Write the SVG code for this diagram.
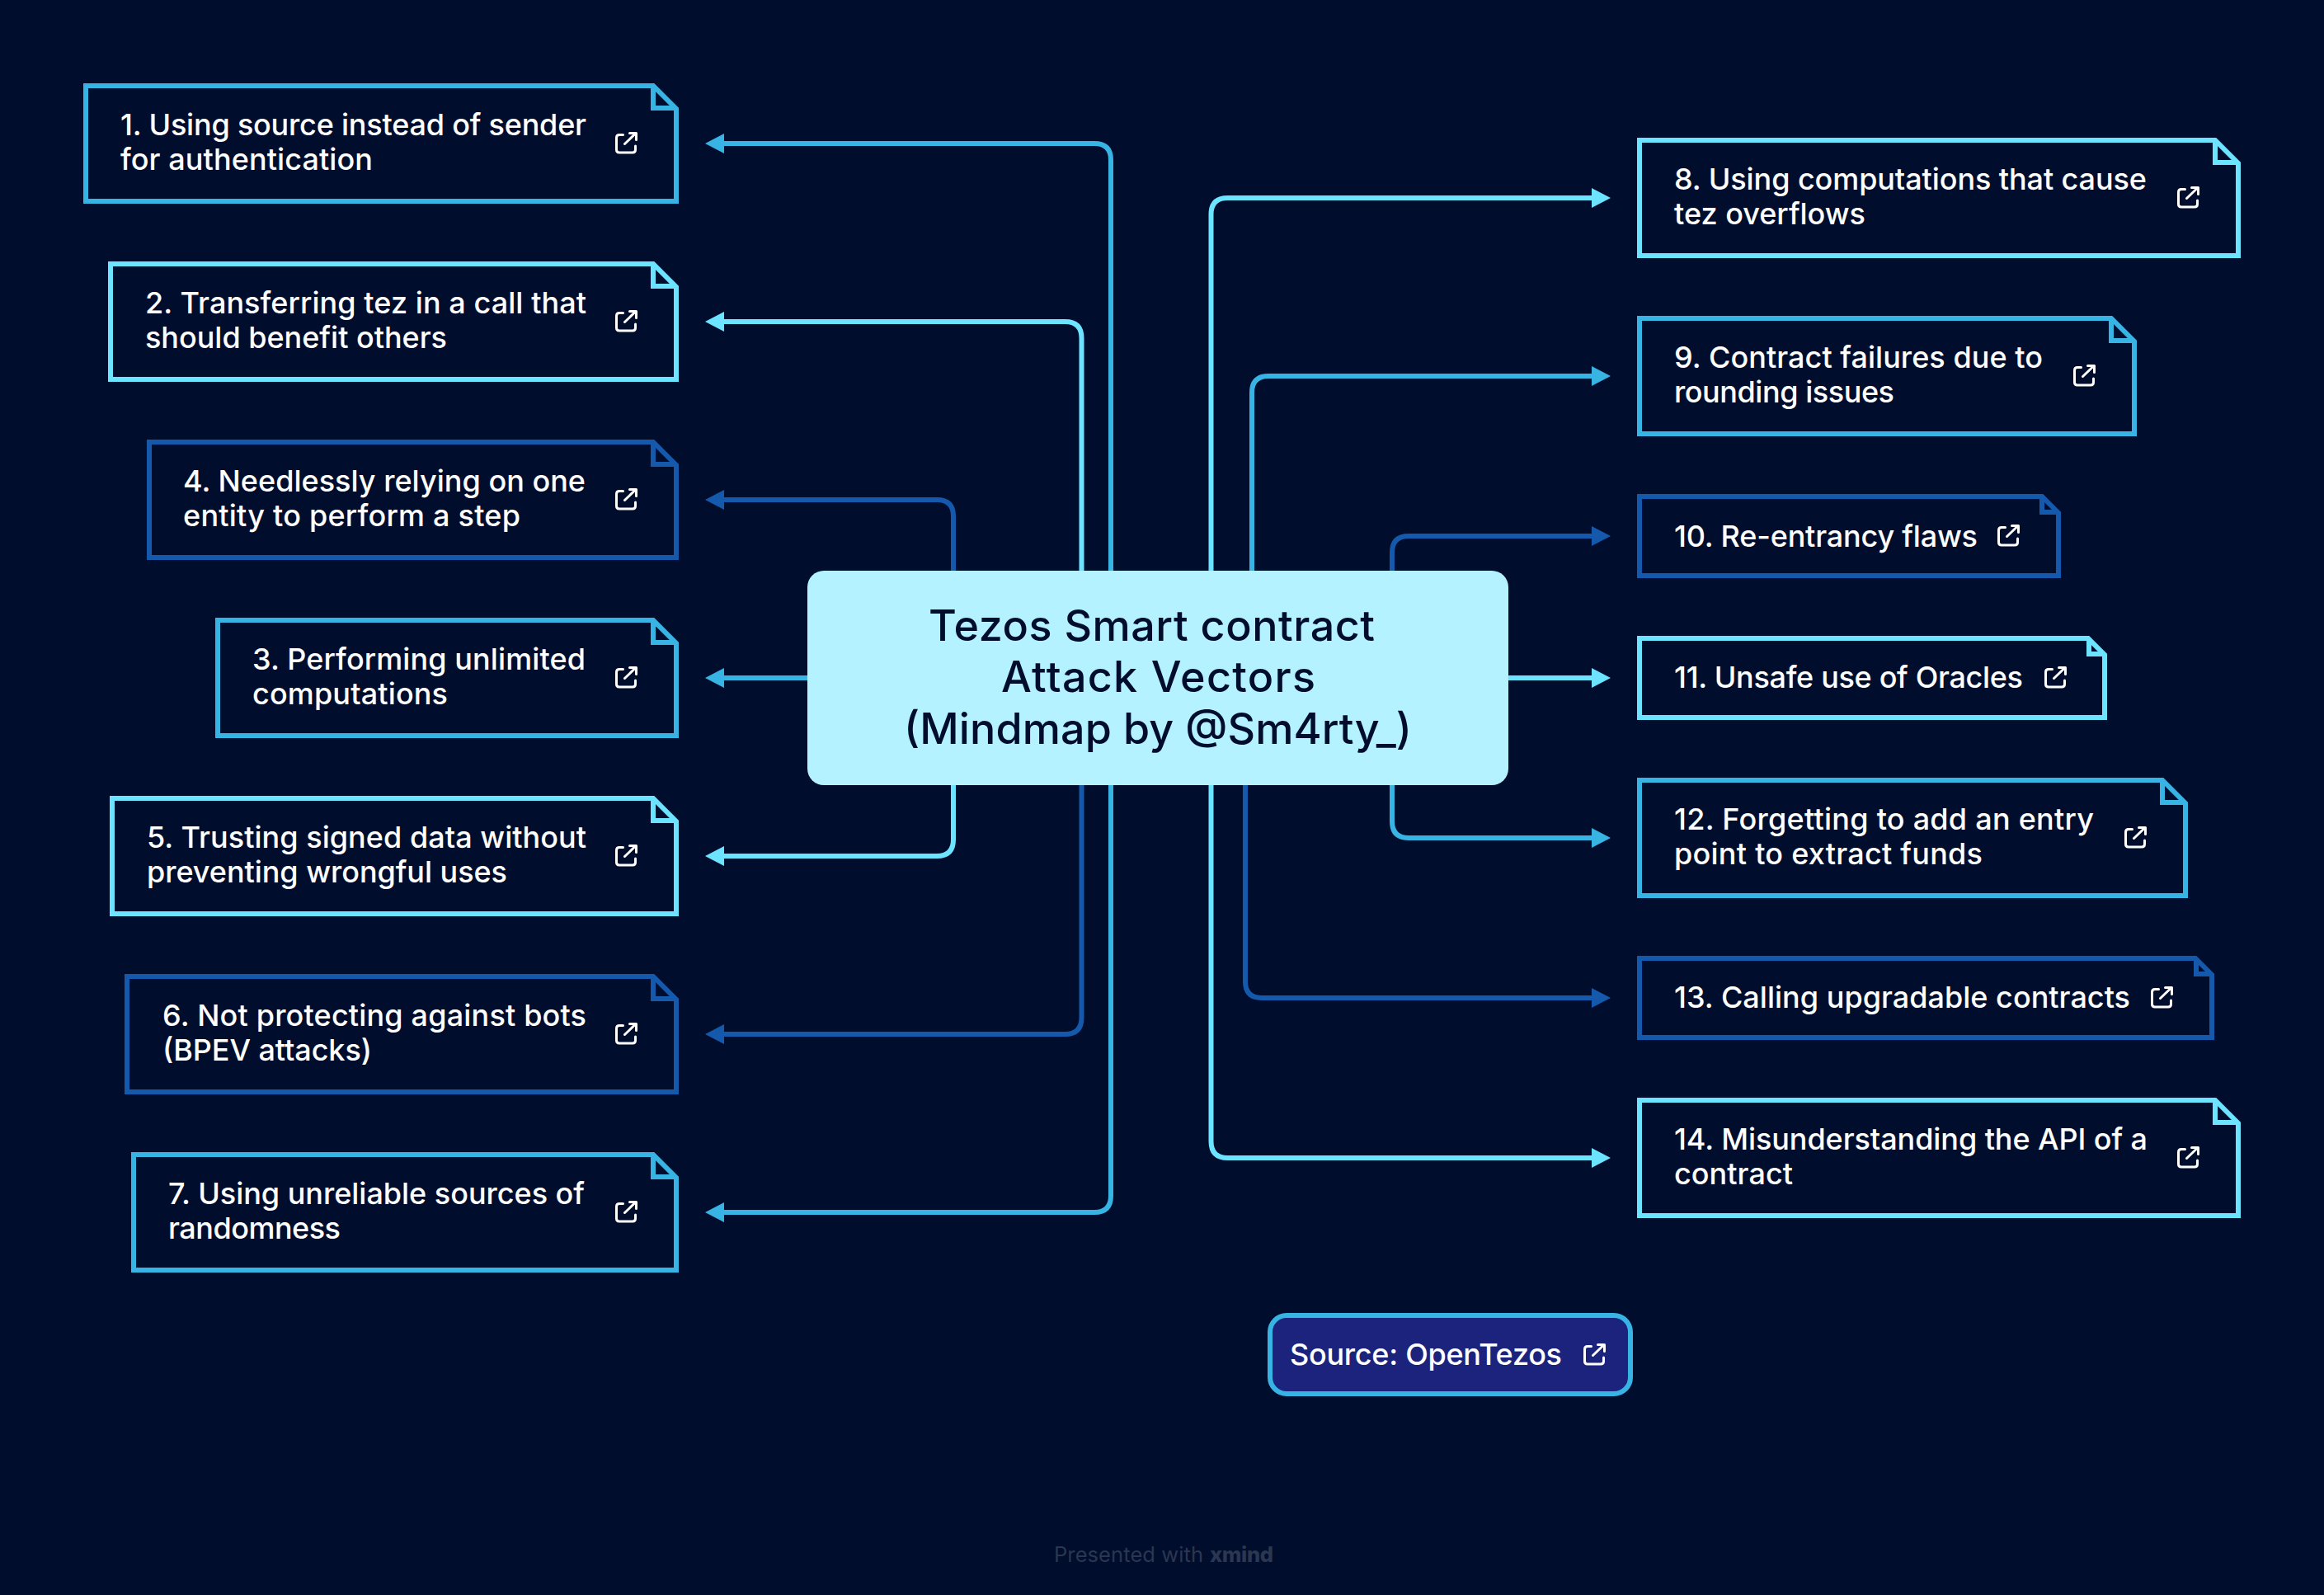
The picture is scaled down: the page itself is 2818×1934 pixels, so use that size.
<svg xmlns="http://www.w3.org/2000/svg" width="2818" height="1934" viewBox="0 0 2818 1934">
<style>
.t{font-family:"Inter","Noto Sans",sans-serif;font-size:36px;font-weight:500;fill:#fff}
.c{font-family:"Inter","Noto Sans",sans-serif;font-size:52px;font-weight:500;fill:#000D2D}
.n{fill:none;stroke-width:6;stroke-linejoin:miter}
.l{fill:none;stroke-width:6}
.b{stroke:#6CE3FF}.m{stroke:#38B4E4}.d{stroke:#1559AC}
.i{fill:none;stroke:#fff;stroke-width:3;stroke-linecap:round;stroke-linejoin:round}
.f{font-family:"Inter","Noto Sans",sans-serif;font-size:25.500px;fill:#2B3650}
</style>
<defs>
<g id="ic"><path class="i" d="M9.500 3.500H5Q1.500 3.500 1.500 7V21.500Q1.500 25 5 25H21Q24.500 25 24.500 21.500V17"/><path class="i" d="M11.500 14.500L25 1.500M17.500 1.500H25.500V9.500"/></g>
<marker id="ab" markerUnits="userSpaceOnUse" markerWidth="24" markerHeight="24" refX="0" refY="12" orient="auto"><path d="M0 0L23 12L0 24Z" fill="#6CE3FF"/></marker>
<marker id="am" markerUnits="userSpaceOnUse" markerWidth="24" markerHeight="24" refX="0" refY="12" orient="auto"><path d="M0 0L23 12L0 24Z" fill="#38B4E4"/></marker>
<marker id="ad" markerUnits="userSpaceOnUse" markerWidth="24" markerHeight="24" refX="0" refY="12" orient="auto"><path d="M0 0L23 12L0 24Z" fill="#1559AC"/></marker>
</defs>
<rect width="2818" height="1934" fill="#000D2D"/>
<g id="connectors">
<path class="l m" marker-end="url(#am)" d="M1347 692V194Q1347 174 1327 174H878"/>
<path class="l b" marker-end="url(#ab)" d="M1311.500 692V410Q1311.500 390 1291.500 390H878"/>
<path class="l d" marker-end="url(#ad)" d="M1156 692V626Q1156 606 1136 606H878"/>
<path class="l m" marker-end="url(#am)" d="M979 822H878"/>
<path class="l b" marker-end="url(#ab)" d="M1156 952V1018Q1156 1038 1136 1038H878"/>
<path class="l d" marker-end="url(#ad)" d="M1311.500 952V1234Q1311.500 1254 1291.500 1254H878"/>
<path class="l m" marker-end="url(#am)" d="M1347 952V1450Q1347 1470 1327 1470H878"/>
<path class="l b" marker-end="url(#ab)" d="M1468.500 692V260Q1468.500 240 1488.500 240H1930"/>
<path class="l m" marker-end="url(#am)" d="M1518 692V476Q1518 456 1538 456H1930"/>
<path class="l d" marker-end="url(#ad)" d="M1688 692V670Q1688 650 1708 650H1930"/>
<path class="l b" marker-end="url(#ab)" d="M1829 822H1930"/>
<path class="l m" marker-end="url(#am)" d="M1688 952V996Q1688 1016 1708 1016H1930"/>
<path class="l d" marker-end="url(#ad)" d="M1510 952V1190Q1510 1210 1530 1210H1930"/>
<path class="l b" marker-end="url(#ab)" d="M1468.500 952V1384Q1468.500 1404 1488.500 1404H1930"/>
</g>
<g id="center"><rect x="979" y="692" width="850" height="260" rx="20" fill="#B5F2FF"/>
<text class="c" x="1126" y="777" textLength="541">Tezos Smart contract</text>
<text class="c" x="1214" y="839" textLength="381">Attack Vectors</text>
<text class="c" x="1096" y="902" textLength="616">(Mindmap by @Sm4rty_)</text></g>
<g id="node1"><path class="n m" d="M104 104H792L820 132V244H104Z M792 104V131H820"/><text class="t" x="146" y="164" textLength="565">1. Using source instead of sender</text><text class="t" x="146" y="206" textLength="306">for authentication</text><use href="#ic" x="746" y="160"/></g>
<g id="node2"><path class="n b" d="M134 320H792L820 348V460H134Z M792 320V347H820"/><text class="t" x="176" y="380" textLength="535">2. Transferring tez in a call that</text><text class="t" x="176" y="422" textLength="366">should benefit others</text><use href="#ic" x="746" y="376"/></g>
<g id="node4"><path class="n d" d="M181 536H792L820 564V676H181Z M792 536V563H820"/><text class="t" x="222" y="596" textLength="488">4. Needlessly relying on one</text><text class="t" x="222" y="638" textLength="409">entity to perform a step</text><use href="#ic" x="746" y="592"/></g>
<g id="node3"><path class="n m" d="M264 752H792L820 780V892H264Z M792 752V779H820"/><text class="t" x="306" y="812" textLength="404">3. Performing unlimited</text><text class="t" x="306" y="854" textLength="237">computations</text><use href="#ic" x="746" y="808"/></g>
<g id="node5"><path class="n b" d="M136 968H792L820 996V1108H136Z M792 968V995H820"/><text class="t" x="178" y="1028" textLength="533">5. Trusting signed data without</text><text class="t" x="178" y="1070" textLength="437">preventing wrongful uses</text><use href="#ic" x="746" y="1024"/></g>
<g id="node6"><path class="n d" d="M154 1184H792L820 1212V1324H154Z M792 1184V1211H820"/><text class="t" x="197" y="1244" textLength="514">6. Not protecting against bots</text><text class="t" x="197" y="1286" textLength="254">(BPEV attacks)</text><use href="#ic" x="746" y="1240"/></g>
<g id="node7"><path class="n m" d="M162 1400H792L820 1428V1540H162Z M792 1400V1427H820"/><text class="t" x="204" y="1460" textLength="505">7. Using unreliable sources of</text><text class="t" x="204" y="1502" textLength="209">randomness</text><use href="#ic" x="746" y="1456"/></g>
<g id="node8"><path class="n b" d="M1988 170H2686L2714 198V310H1988Z M2686 170V197H2714"/><text class="t" x="2030" y="230" textLength="573">8. Using computations that cause</text><text class="t" x="2030" y="272" textLength="232">tez overflows</text><use href="#ic" x="2640" y="226"/></g>
<g id="node9"><path class="n m" d="M1988 386H2560L2588 414V526H1988Z M2560 386V413H2588"/><text class="t" x="2030" y="446" textLength="447">9. Contract failures due to</text><text class="t" x="2030" y="488" textLength="267">rounding issues</text><use href="#ic" x="2514" y="442"/></g>
<g id="node10"><path class="n d" d="M1988 602H2476L2496 622V698H1988Z M2476 602V621H2496"/><text class="t" x="2030" y="662.500" textLength="368">10. Re-entrancy flaws</text><use href="#ic" x="2422" y="636"/></g>
<g id="node11"><path class="n b" d="M1988 774H2532L2552 794V870H1988Z M2533 774V793H2552"/><text class="t" x="2030" y="834" textLength="423">11. Unsafe use of Oracles</text><use href="#ic" x="2479" y="808"/></g>
<g id="node12"><path class="n m" d="M1988 946H2622L2650 974V1086H1988Z M2622 946V973H2650"/><text class="t" x="2030" y="1006" textLength="509">12. Forgetting to add an entry</text><text class="t" x="2030" y="1048" textLength="374">point to extract funds</text><use href="#ic" x="2576" y="1002"/></g>
<g id="node13"><path class="n d" d="M1988 1162H2662L2682 1182V1258H1988Z M2663 1162V1181H2682"/><text class="t" x="2030" y="1222" textLength="553">13. Calling upgradable contracts</text><use href="#ic" x="2608" y="1196"/></g>
<g id="node14"><path class="n b" d="M1988 1334H2686L2714 1362V1474H1988Z M2686 1334V1361H2714"/><text class="t" x="2030" y="1394" textLength="574">14. Misunderstanding the API of a</text><text class="t" x="2030" y="1436" textLength="144">contract</text><use href="#ic" x="2640" y="1390"/></g>
<g id="source"><rect x="1540" y="1595" width="437" height="95" rx="20" fill="#1C237D" stroke="#38B4E4" stroke-width="6"/><text class="t" x="1564" y="1655" textLength="330">Source: OpenTezos</text><use href="#ic" x="1920" y="1629"/></g>
<text class="f" y="1894"><tspan x="1278" textLength="181">Presented with</tspan> <tspan x="1467" textLength="77" font-weight="800">xmind</tspan></text>
</svg>
